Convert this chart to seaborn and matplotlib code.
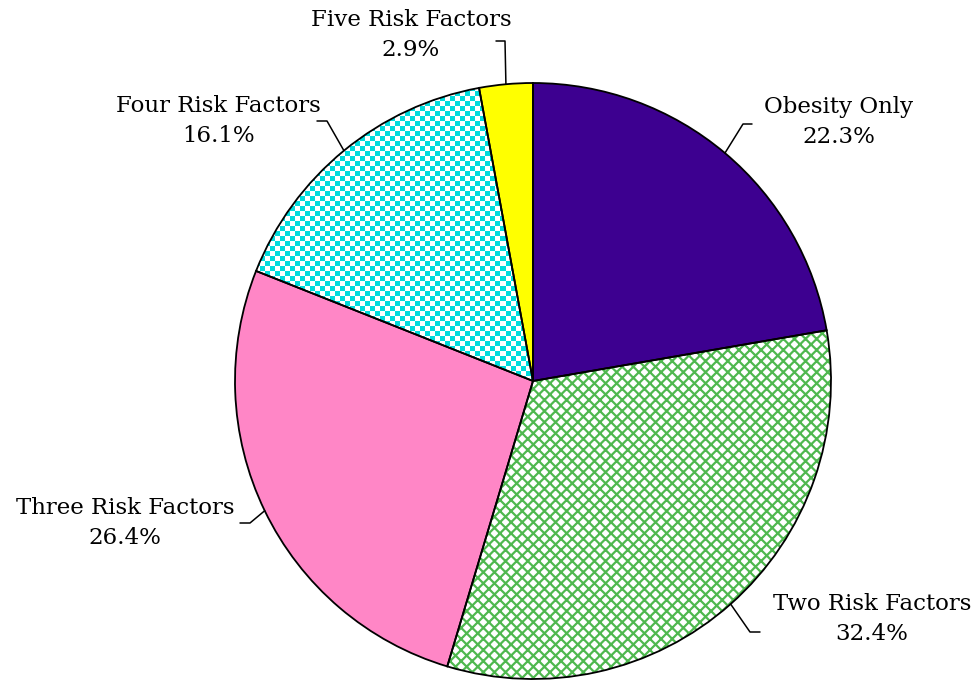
import numpy as np
import matplotlib
matplotlib.use("Agg")
import matplotlib.pyplot as plt
from matplotlib.colors import ListedColormap
import seaborn as sns

# data
labels = ["Obesity Only", "Two Risk Factors", "Three Risk Factors",
          "Four Risk Factors", "Five Risk Factors"]
shares = [22.3, 32.4, 26.4, 16.1, 2.9]
pct_text = ["22.3%", "32.4%", "26.4%", "16.1%", "2.9%"]

sns.set_theme(style="white")
plt.rcParams["font.family"] = ["DejaVu Serif", "DejaVu Sans"]
plt.rcParams["hatch.linewidth"] = 1.6

W, H = 980, 686
fig = plt.figure(figsize=(9.8, 6.86), dpi=100)
ax = fig.add_axes([0, 0, 1, 1])

cx, cy, r = 533, H - 381, 298

# base faces
face = ["#3d0090", "white", "#ff86c6", "white", "#ffff00"]
wedges, _ = ax.pie(shares, startangle=90, counterclock=False, center=(cx, cy),
                   radius=r, colors=face, frame=True,
                   wedgeprops=dict(linewidth=0))
wedges[1].set_hatch("xxx")
wedges[1].set_edgecolor("#4fb84f")

# checkerboard for "Four Risk Factors"
sq = 5
ny, nx = H // sq + 1, W // sq + 1
checker = (np.add.outer(np.arange(ny), np.arange(nx)) % 2).astype(float)
img = ax.imshow(checker, cmap=ListedColormap(["white", "#00dcdc"]),
                extent=(0, nx * sq, 0, ny * sq), origin="lower",
                interpolation="nearest", zorder=2)
img.set_clip_path(wedges[3])

# outline on top
outline, _ = ax.pie(shares, startangle=90, counterclock=False, center=(cx, cy),
                    radius=r, colors=["none"] * 5, frame=True,
                    wedgeprops=dict(linewidth=1.3, edgecolor="black"))
for w in outline:
    w.set_zorder(3)

# label layout: text centre, elbow, line end (pixel coords, y from top)
text_pos = [(839, 122), (872, 619), (125, 523), (218, 121), (411, 35)]
elbows = [(743, 124), (750, 632), (250, 523), (327, 121), (505, 41)]
ends = [(752, 124), (760, 632), (240, 523), (317, 121), (496, 41)]

for i, w in enumerate(outline):
    ang = np.deg2rad((w.theta1 + w.theta2) / 2)
    ex, ey = cx + r * np.cos(ang), cy + r * np.sin(ang)
    xs = [ex, elbows[i][0], ends[i][0]]
    ys = [ey, H - elbows[i][1], H - ends[i][1]]
    ax.plot(xs, ys, color="black", lw=1.1, zorder=4)
    tx, ty = text_pos[i]
    ax.text(tx, H - ty, labels[i] + "\n" + pct_text[i], ha="center",
            va="center", fontsize=16.5, linespacing=1.42, color="black")

ax.set_xlim(0, W)
ax.set_ylim(0, H)
ax.set_aspect("equal")
ax.axis("off")

fig.savefig("out.png", dpi=100, facecolor="white")
